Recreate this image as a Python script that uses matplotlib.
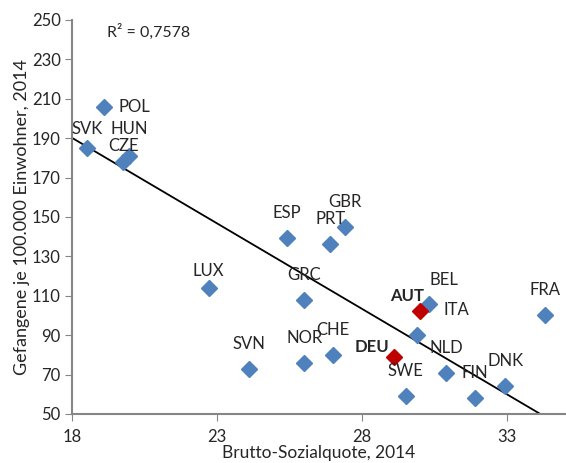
import numpy as np
import matplotlib
matplotlib.use("Agg")
import matplotlib.pyplot as plt

# Laender, Sozialquote (x) und Gefangene je 100.000 (y)
laender = ["POL", "SVK", "HUN", "CZE", "ESP", "PRT", "GBR", "GRC", "LUX", "BEL",
           "AUT", "ITA", "DEU", "NLD", "SWE", "FIN", "DNK", "FRA", "SVN", "NOR", "CHE"]
quote = [19.1, 18.5, 19.95, 19.75, 25.4, 26.9, 27.4, 26.0, 22.7, 30.3,
         30.0, 29.9, 29.1, 30.9, 29.5, 31.9, 32.95, 34.3, 24.1, 26.0, 27.0]
gefangene = [206, 185, 181, 178, 139.5, 136, 145, 108, 114, 106,
             102, 90, 79, 71, 59, 58, 64, 100, 73, 76, 80]
hervor = ["AUT", "DEU"]
# Trendlinie wie im Original (Excel)
trend_start = 190.0
trend_steigung = -8.67
# Label-Versatz in Punkten (dx, dy)
versatz = {"POL": (10, 0), "SVK": (0, 14), "HUN": (0, 19), "CZE": (0, 11),
           "LUX": (0, 12), "BEL": (11, 17), "AUT": (-9, 11), "ITA": (28, 18),
           "DEU": (-16, 7)}

plt.rcParams['font.family'] = ['Lato', 'DejaVu Sans']
fig = plt.figure(figsize=(5.66, 4.63), dpi=100)
ax = fig.add_axes((0.128, 0.106, 0.87, 0.851))

blau = "#4F81BD"
rot = "#C00000"
for name, x, y in zip(laender, quote, gefangene):
    farbe = rot if name in hervor else blau
    ax.plot(x, y, "D", color=farbe, markersize=8.5, zorder=3)
    dx, dy = versatz.get(name, (0, 18))
    ha = "left" if name == "POL" else "center"
    ax.annotate(name, (x, y), xytext=(dx, dy), textcoords="offset points",
                ha=ha, va="center", fontsize=12, color="#262626",
                fontweight="bold" if name in hervor else "normal", zorder=4)

xs = np.array([18, 35])
ax.plot(xs, trend_start + trend_steigung * (xs - 18), color="black", linewidth=1.3, zorder=2)
ax.text(19.2, 244, "R² = 0,7578", fontsize=11.5, va="center", color="#262626")

ax.set_xlim(18, 35)
ax.set_ylim(50, 250)
ax.set_xticks([18, 23, 28, 33])
ax.set_yticks(range(50, 251, 20))
ax.spines["top"].set_visible(False)
ax.spines["right"].set_visible(False)
for s in ["left", "bottom"]:
    ax.spines[s].set_color("#868686")
    ax.spines[s].set_linewidth(1.5)
ax.tick_params(colors="#868686", labelcolor="#262626", labelsize=12, length=5)
ax.tick_params(axis="x", pad=6)
ax.set_xlabel("Brutto-Sozialquote, 2014", fontsize=12.5, color="#262626", labelpad=0)
ax.set_ylabel("Gefangene je 100.000 Einwohner, 2014", fontsize=13, color="#262626", labelpad=1)

fig.savefig("out.png", dpi=100)
